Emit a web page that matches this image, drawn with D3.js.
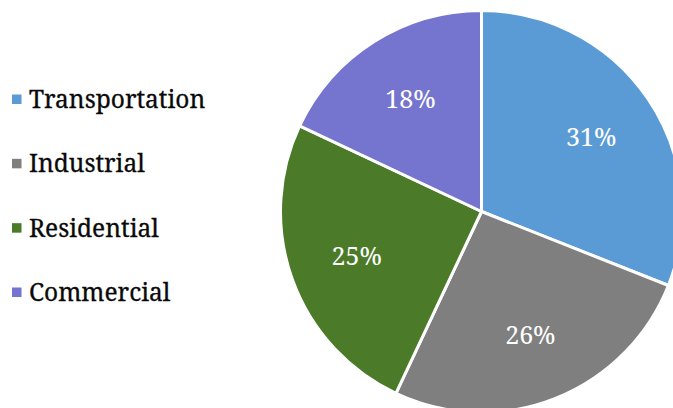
<!DOCTYPE html>
<html><head><meta charset="utf-8">
<script src="https://cdn.jsdelivr.net/npm/d3@7"></script>
<style>html,body{margin:0;padding:0;background:#fff;overflow:hidden}</style>
</head><body>
<svg id="chart" width="673" height="408"></svg>
<script>
const categories = ["Transportation", "Industrial", "Residential", "Commercial"];
const values = [31, 26, 25, 18];
const colors = ["#5B9BD5", "#7F7F7F", "#4B7B28", "#7575CF"];

const svg = d3.select("#chart");
const cx = 481.5, cy = 211.5, R = 201;
const fontFam = "'Noto Serif', 'Liberation Serif', serif";

const data = categories.map((c, i) => ({cat: c, value: values[i], color: colors[i]}));
const pie = d3.pie().value(d => d.value).sort(null);
const arcs = pie(data);
const arc = d3.arc().innerRadius(0).outerRadius(R);
const labelArc = d3.arc().innerRadius(R * 0.66).outerRadius(R * 0.66);

const g = svg.append("g").attr("transform", `translate(${cx},${cy})`);
g.selectAll("path").data(arcs).join("path")
  .attr("d", arc)
  .attr("fill", d => d.data.color)
  .attr("stroke", "#fff")
  .attr("stroke-width", 3)
  .attr("stroke-linejoin", "round");

const total = d3.sum(values);
g.selectAll("text.lbl").data(arcs).join("text")
  .attr("class", "lbl")
  .attr("transform", d => {
    const [x, y] = labelArc.centroid(d);
    return `translate(${x},${y})`;
  })
  .attr("text-anchor", "middle")
  .attr("dy", "0.36em")
  .attr("fill", "#fff")
  .attr("font-family", fontFam)
  .attr("font-size", 25)
  .text(d => Math.round(d.data.value / total * 100) + "%");

const legY = d3.scalePoint().domain(categories).range([99, 292]);
const leg = svg.append("g");
const items = leg.selectAll("g").data(data).join("g")
  .attr("transform", d => `translate(0,${legY(d.cat)})`);
items.append("rect").attr("x", 12).attr("y", -4.5).attr("width", 9.5).attr("height", 9.5)
  .attr("fill", d => d.color);
items.append("text").attr("x", 29).attr("y", 9)
  .attr("font-family", fontFam).attr("font-size", 24.5).attr("fill", "#0a0a0a")
  .attr("stroke", "#0a0a0a").attr("stroke-width", 0.3)
  .text(d => d.cat);
</script>
</body></html>
